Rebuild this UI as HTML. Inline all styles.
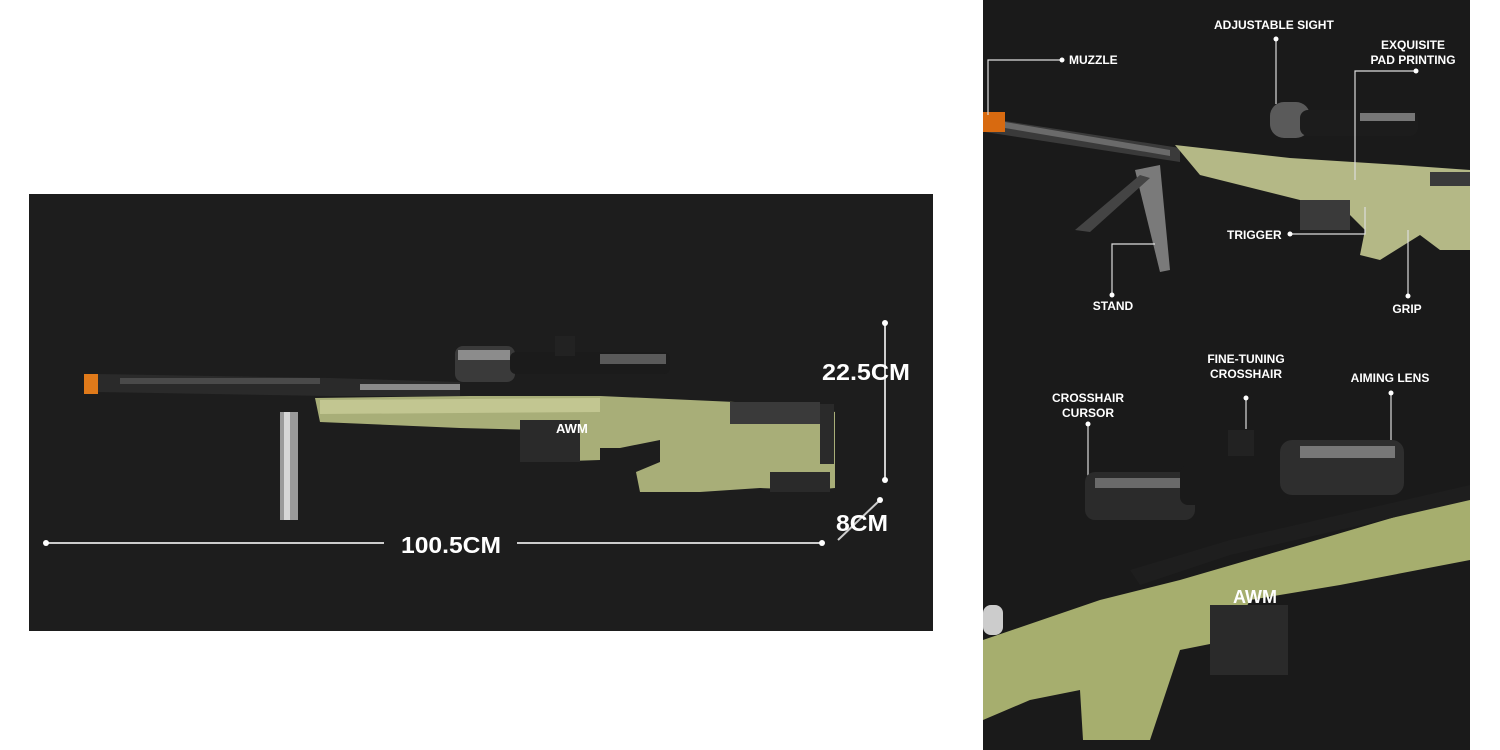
<!DOCTYPE html>
<html><head><style>
html,body{margin:0;padding:0;background:#fff;width:1500px;height:750px;overflow:hidden}
svg{display:block}
text{font-family:"Liberation Sans",sans-serif;font-weight:bold;fill:#fff}
</style></head><body>
<svg width="1500" height="750" viewBox="0 0 1500 750">
<rect x="29" y="194" width="904" height="437" fill="#1d1d1d"/>
<rect x="280" y="412" width="18" height="108" fill="#9a9a9a"/>
<rect x="284" y="412" width="6" height="108" fill="#d6d6d6"/>
<polygon points="95,374 330,378 460,382 460,396 330,396 95,392" fill="#2a2a2a"/>
<rect x="120" y="378" width="200" height="6" fill="#4a4a4a"/>
<rect x="84" y="374" width="14" height="20" fill="#e07a1a"/>
<rect x="360" y="384" width="100" height="6" fill="#8a8a8a"/>
<rect x="455" y="346" width="60" height="36" rx="8" fill="#3a3a3a"/>
<rect x="458" y="350" width="52" height="10" fill="#8c8c8c"/>
<rect x="510" y="352" width="160" height="22" rx="6" fill="#1b1b1b"/>
<rect x="600" y="354" width="66" height="10" fill="#5a5a5a"/>
<rect x="555" y="336" width="20" height="20" fill="#222"/>
<polygon points="315,398 470,396 600,396 735,402 820,408 835,412 835,488 812,490 760,488 700,492 640,492 636,472 660,462 660,440 620,448 600,448 600,460 540,462 540,430 460,428 320,422" fill="#a8ae78"/>
<polygon points="320,400 600,398 600,412 320,414" fill="#c2c691"/>
<rect x="520" y="420" width="60" height="42" fill="#2a2a2a"/>
<rect x="730" y="402" width="90" height="22" fill="#3a3a3a"/>
<rect x="820" y="404" width="14" height="60" fill="#2a2a2a"/>
<rect x="770" y="472" width="60" height="20" fill="#2a2a2a"/>
<text x="556" y="433" font-size="13" fill="#eee">AWM</text>
<line x1="46" y1="543" x2="384" y2="543" stroke="#ccc" stroke-width="2"/>
<line x1="517" y1="543" x2="822" y2="543" stroke="#ccc" stroke-width="2"/>
<circle cx="46" cy="543" r="3" fill="#fff"/><circle cx="822" cy="543" r="3" fill="#fff"/>
<text x="401" y="553" font-size="23" fill="#e0e0e0" textLength="100" lengthAdjust="spacingAndGlyphs">100.5CM</text>
<line x1="885" y1="323" x2="885" y2="480" stroke="#ccc" stroke-width="2"/>
<circle cx="885" cy="323" r="3" fill="#fff"/><circle cx="885" cy="480" r="3" fill="#fff"/>
<text x="822" y="380" font-size="23" fill="#e0e0e0" textLength="88" lengthAdjust="spacingAndGlyphs">22.5CM</text>
<line x1="880" y1="500" x2="838" y2="540" stroke="#ccc" stroke-width="2"/>
<circle cx="880" cy="500" r="3" fill="#fff"/>
<text x="836" y="531" font-size="23" fill="#e0e0e0" textLength="52" lengthAdjust="spacingAndGlyphs">8CM</text>

<rect x="983" y="0" width="487" height="750" fill="#1a1a1a"/>
<polygon points="985,118 1180,148 1180,162 985,132" fill="#3a3a3a"/>
<polygon points="1005,122 1170,150 1170,156 1005,128" fill="#6a6a6a"/>
<rect x="983" y="112" width="22" height="20" fill="#d86a10"/>
<polygon points="1175,145 1290,158 1400,165 1470,170 1470,250 1440,250 1420,235 1380,260 1360,255 1365,230 1340,205 1300,200 1240,185 1200,175" fill="#b4b886"/>
<rect x="1300" y="200" width="50" height="30" fill="#3a3a3a"/>
<rect x="1430" y="172" width="40" height="14" fill="#3a3a3a"/>
<rect x="1270" y="102" width="40" height="36" rx="14" fill="#5a5a5a"/>
<rect x="1300" y="110" width="118" height="26" rx="8" fill="#1c1c1c"/>
<rect x="1360" y="113" width="55" height="8" fill="#777"/>
<polygon points="1135,170 1160,165 1170,270 1160,272" fill="#7a7a7a"/>
<polygon points="1140,175 1150,178 1090,232 1075,230" fill="#444"/>
<g stroke="#ddd" stroke-width="1.2" fill="none">
<polyline points="1062,60 988,60 988,115"/>
<polyline points="1276,39 1276,104"/>
<polyline points="1416,71 1355,71 1355,180"/>
<polyline points="1290,234 1365,234 1365,207"/>
<polyline points="1112,295 1112,244 1155,244"/>
<polyline points="1408,296 1408,230"/>
<polyline points="1246,429 1246,398"/>
<polyline points="1088,490 1088,424"/>
<polyline points="1391,470 1391,393"/>
</g>
<g fill="#fff">
<circle cx="1062" cy="60" r="2.5"/><circle cx="1276" cy="39" r="2.5"/><circle cx="1416" cy="71" r="2.5"/>
<circle cx="1290" cy="234" r="2.5"/><circle cx="1112" cy="295" r="2.5"/><circle cx="1408" cy="296" r="2.5"/>
<circle cx="1246" cy="398" r="2.5"/><circle cx="1088" cy="424" r="2.5"/><circle cx="1391" cy="393" r="2.5"/>
</g>
<text x="1069" y="64" font-size="12">MUZZLE</text>
<text x="1214" y="29" font-size="12">ADJUSTABLE SIGHT</text>
<text x="1413" y="49" font-size="12" text-anchor="middle">EXQUISITE</text>
<text x="1413" y="64" font-size="12" text-anchor="middle">PAD PRINTING</text>
<text x="1227" y="239" font-size="12">TRIGGER</text>
<text x="1113" y="310" font-size="12" text-anchor="middle">STAND</text>
<text x="1407" y="313" font-size="12" text-anchor="middle">GRIP</text>
<text x="1246" y="363" font-size="12" text-anchor="middle">FINE-TUNING</text>
<text x="1246" y="378" font-size="12" text-anchor="middle">CROSSHAIR</text>
<text x="1390" y="382" font-size="12" text-anchor="middle">AIMING LENS</text>
<text x="1088" y="402" font-size="12" text-anchor="middle">CROSSHAIR</text>
<text x="1088" y="417" font-size="12" text-anchor="middle">CURSOR</text>
<polygon points="983,640 1100,600 1180,580 1300,545 1470,495 1470,560 1340,585 1250,600 1230,640 1180,650 1150,740 1083,740 1080,690 1030,700 983,720" fill="#a6ae6e"/>
<polygon points="1130,570 1230,540 1470,485 1470,500 1230,555 1140,585" fill="#1e1e1e"/>
<rect x="1210" y="605" width="78" height="70" fill="#2a2a2a"/>
<rect x="1085" y="472" width="110" height="48" rx="10" fill="#2b2b2b"/>
<rect x="1095" y="478" width="90" height="10" fill="#6a6a6a"/>
<rect x="1180" y="465" width="110" height="40" rx="8" fill="#1a1a1a"/>
<rect x="1280" y="440" width="124" height="55" rx="12" fill="#2e2e2e"/>
<rect x="1300" y="446" width="95" height="12" fill="#777"/>
<rect x="1228" y="430" width="26" height="26" fill="#222"/>
<text x="1233" y="603" font-size="18" fill="#eee">AWM</text>
<rect x="983" y="605" width="20" height="30" rx="8" fill="#ccc"/>
</svg>
</body></html>
